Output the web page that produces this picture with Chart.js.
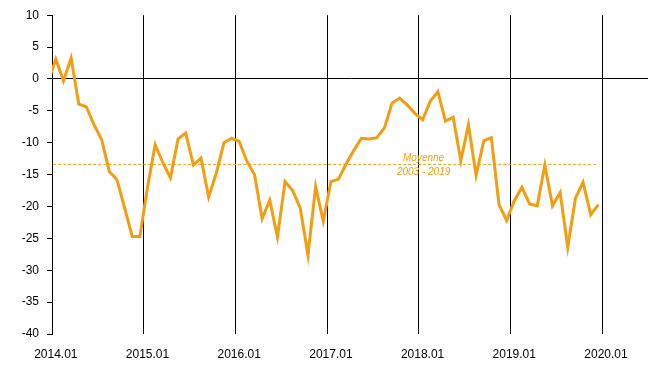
<!DOCTYPE html>
<html>
<head>
<meta charset="utf-8">
<script src="https://cdn.jsdelivr.net/npm/chart.js@4"></script>
<style>
  html, body { margin: 0; padding: 0; background: #fff; }
  #wrap { width: 661px; height: 379px; }
</style>
</head>
<body>
<div id="wrap"><canvas id="grafica"></canvas></div>
<script>
// ========== DATA ===================
// months, 2013.12 is only there so the line enters from the left edge
const mois = ["2013.12"];
for (let a = 2014; a <= 2020; a++) {
  for (let m = 1; m <= 12; m++) {
    if (a === 2020 && m > 6) break;
    mois.push(a + "." + String(m).padStart(2, "0"));
  }
}

// solde d'opinion, 2013.12 -> 2019.12
const solde = [
  -0.4,
  3.1, -0.3, 3.3, -3.9, -4.4, -7.2, -9.5, -14.5, -15.8, -20.2, -24.7, -24.7,
  -17.0, -10.3, -13.1, -15.5, -9.4, -8.5, -13.5, -12.4, -18.5, -14.8, -10.0, -9.3,
  -9.8, -12.9, -15.0, -21.9, -19.0, -24.8, -16.1, -17.5, -20.3, -27.6, -16.9, -22.3,
  -16.1, -15.7, -13.3, -11.2, -9.3, -9.4, -9.2, -7.7, -3.8, -3.0, -4.1, -5.4,
  -6.4, -3.5, -2.0, -6.6, -6.0, -12.8, -7.2, -15.1, -9.7, -9.2, -19.7, -22.2,
  -19.1, -17.0, -19.6, -19.9, -13.5, -19.9, -17.8, -26.4, -18.7, -16.2, -21.3, -19.7
];

const MOYENNE = -13.4;
const moyenneTexte = ["Moyenne", "2003 - 2019"];
const ORANGE = "#F29D12";

// ========== LABEL PLUGIN ==========
const etiquette = {
  id: "etiquette",
  afterDatasetsDraw(chart) {
    const { ctx, scales } = chart;
    const x = scales.x.getPixelForValue(mois.indexOf("2018.01")) + 1;
    const y = scales.y.getPixelForValue(MOYENNE);
    ctx.save();
    ctx.font = "italic 10px 'Liberation Sans', Arial, sans-serif";
    ctx.fillStyle = ORANGE;
    ctx.textAlign = "center";
    ctx.textBaseline = "middle";
    ctx.fillText(moyenneTexte[0], x, y - 6);
    ctx.fillText(moyenneTexte[1], x, y + 8);
    ctx.restore();
  }
};

// ========== CHART ==========
function graficar() {
  const esEnero = t => t && mois[t.value] && mois[t.value].endsWith(".01");

  new Chart(document.getElementById("grafica"), {
    type: "line",
    data: {
      labels: mois,
      datasets: [
        {
          data: solde,
          borderColor: ORANGE,
          borderWidth: 3,
          pointRadius: 0,
          tension: 0,
          fill: false
        },
        {
          data: solde.map(() => MOYENNE),
          borderColor: ORANGE,
          borderWidth: 1,
          borderDash: [3, 2],
          pointRadius: 0,
          fill: false
        }
      ]
    },
    options: {
      responsive: true,
      maintainAspectRatio: false,
      animation: false,
      layout: { padding: { top: 15, right: 13, left: 0, bottom: 0 } },
      plugins: { legend: { display: false }, tooltip: { enabled: false } },
      scales: {
        x: {
          type: "category",
          min: "2014.01",
          offset: true,
          border: { display: false },
          grid: {
            offset: true,
            drawTicks: false,
            lineWidth: 1,
            color: c => esEnero(c.tick) ? "#000" : "rgba(0,0,0,0)"
          },
          ticks: {
            autoSkip: false,
            maxRotation: 0,
            padding: 13,
            color: "#000",
            font: { family: "'Liberation Sans', Arial, sans-serif", size: 12 },
            callback: function (v) { return mois[v].endsWith(".01") ? mois[v] : ""; }
          },
          afterFit: s => { s.height = 45; }
        },
        y: {
          min: -40,
          max: 10,
          border: { display: true, color: "#000", width: 1 },
          grid: {
            drawTicks: true,
            tickLength: 5,
            tickColor: "#000",
            lineWidth: 1,
            color: c => (c.tick && c.tick.value === 0) ? "#000" : "rgba(0,0,0,0)"
          },
          ticks: {
            stepSize: 5,
            padding: 8,
            color: "#000",
            font: { family: "'Liberation Sans', Arial, sans-serif", size: 12 }
          },
          afterFit: s => { s.width = 52; }
        }
      }
    },
    plugins: [etiquette]
  });
}

window.onload = graficar;
</script>
</body>
</html>
